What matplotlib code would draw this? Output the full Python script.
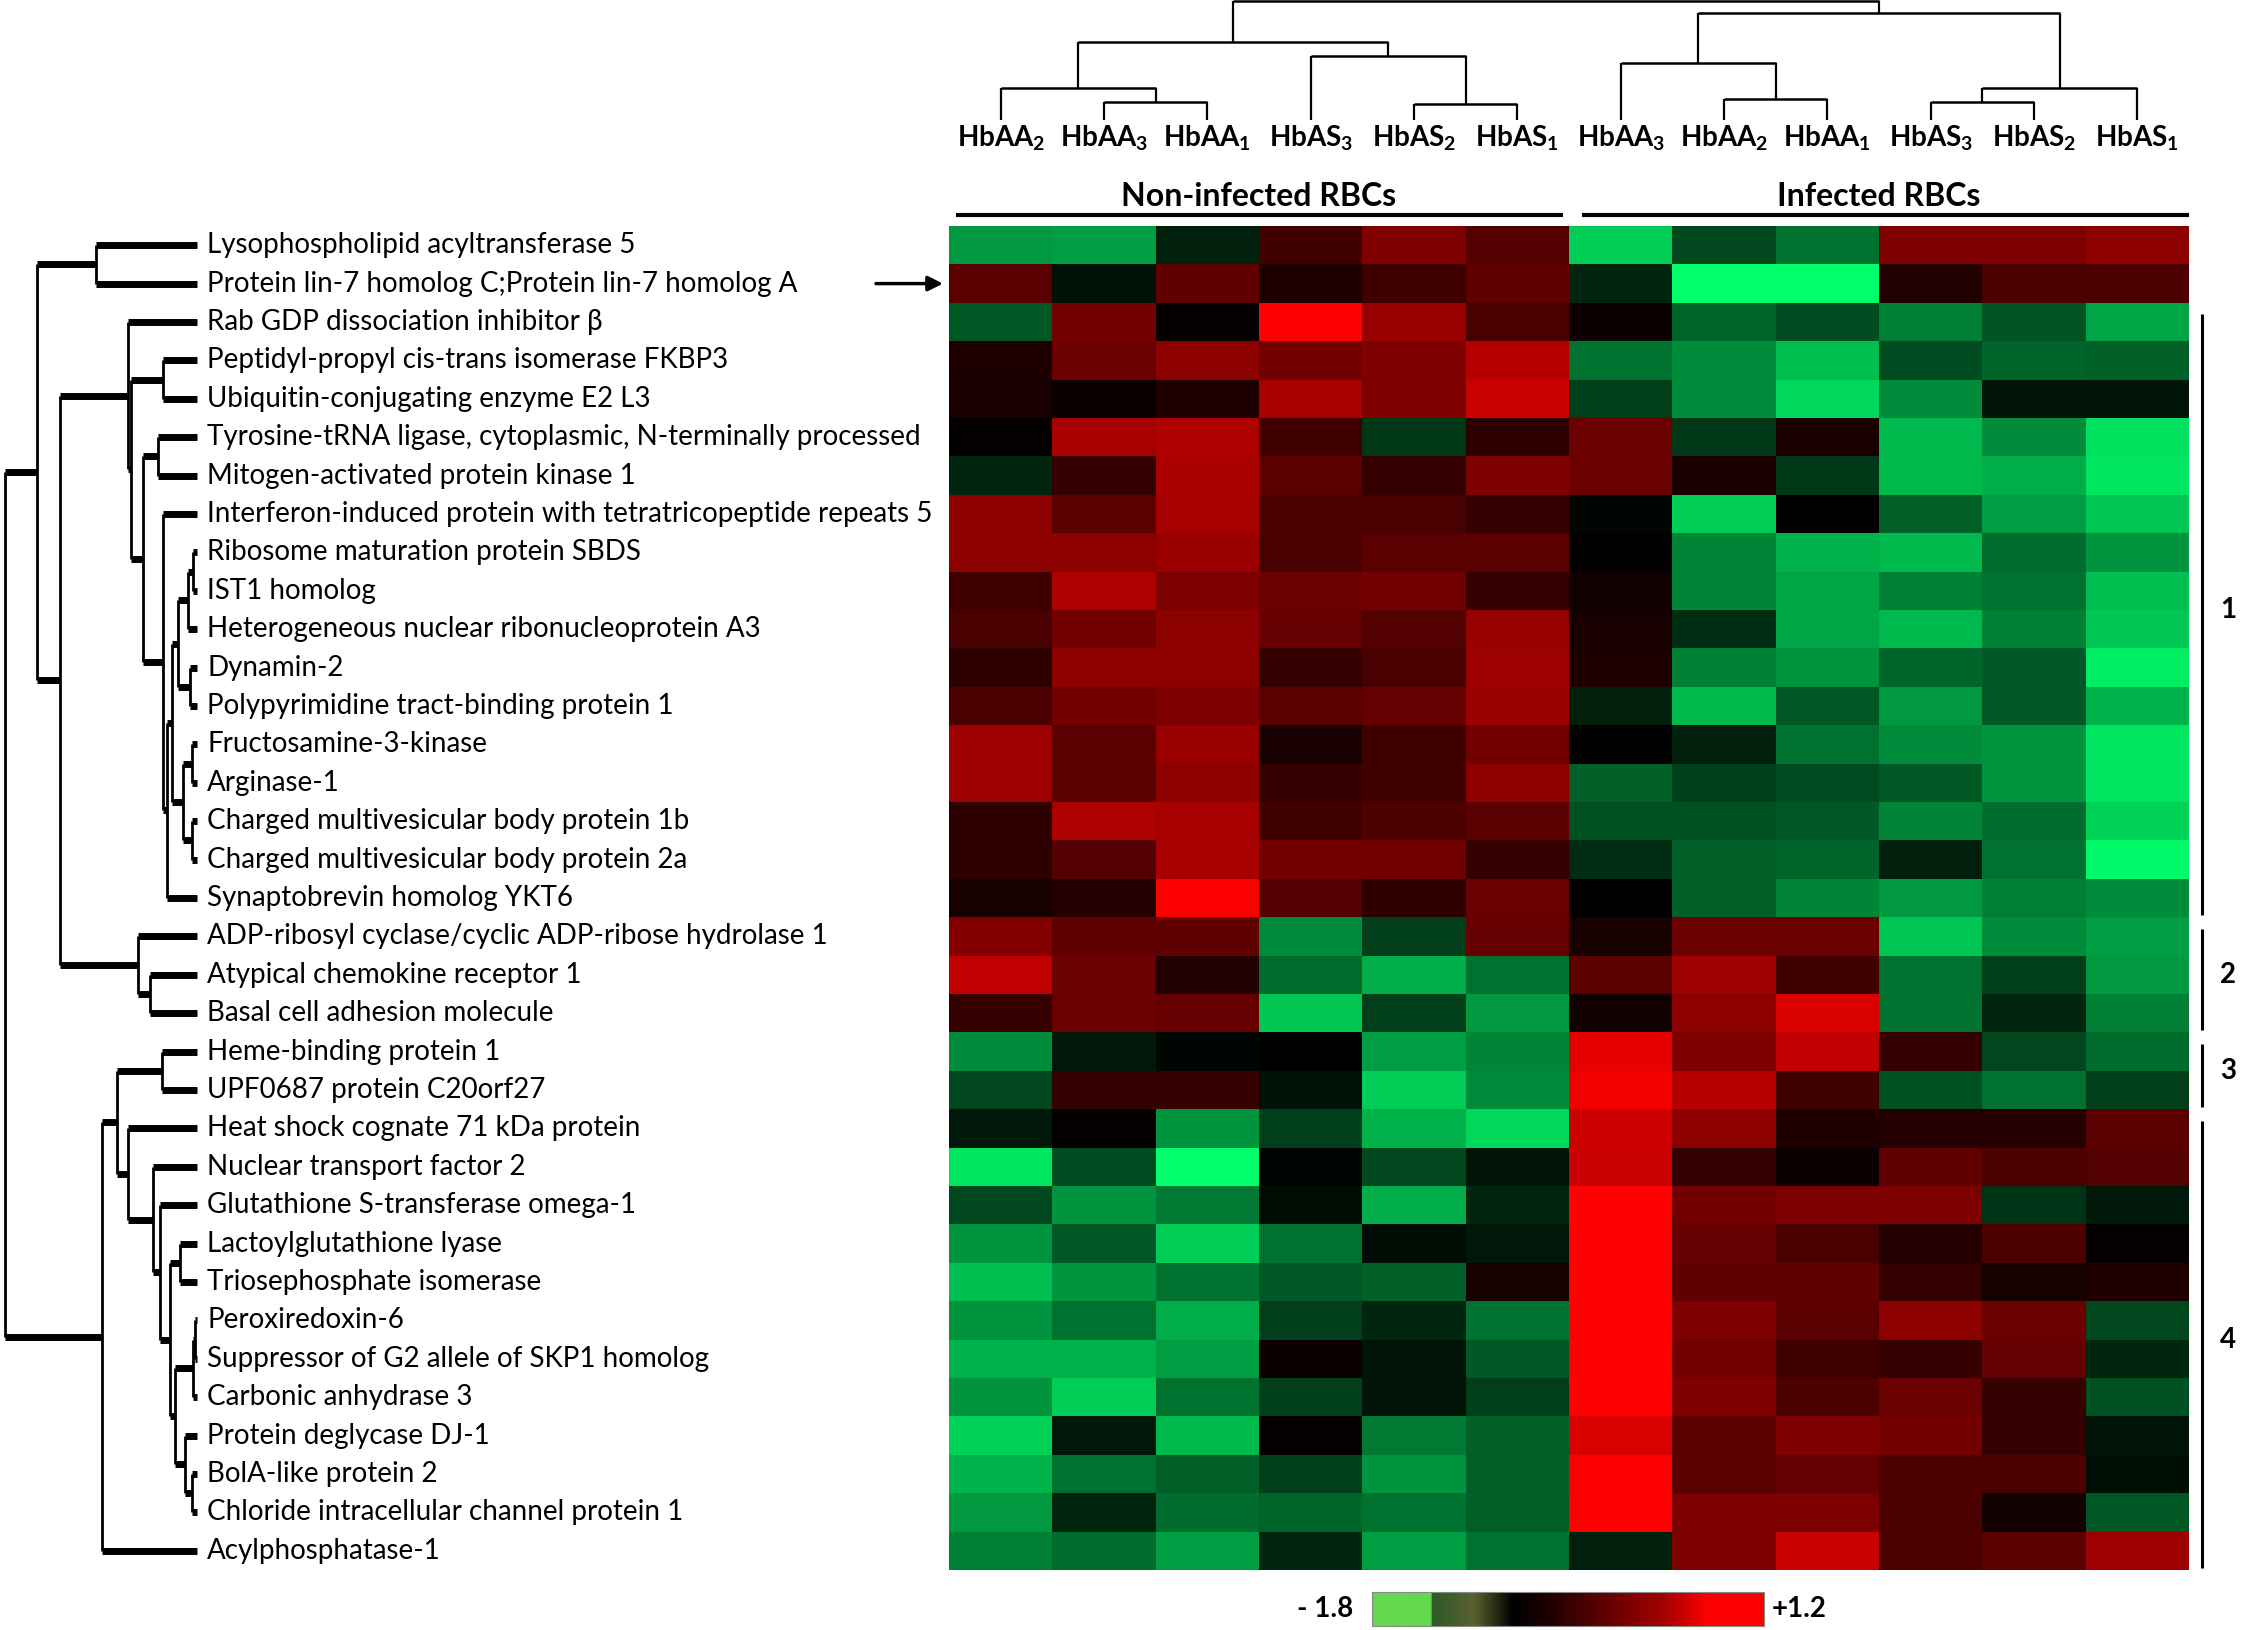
import numpy as np
import matplotlib
matplotlib.use('Agg')
import matplotlib.pyplot as plt
from matplotlib.colors import LinearSegmentedColormap, Normalize
from matplotlib.transforms import blended_transform_factory

plt.rcParams['font.family'] = ['Lato', 'DejaVu Sans']
plt.rcParams['mathtext.fontset'] = 'custom'
plt.rcParams['mathtext.rm'] = 'Lato'
plt.rcParams['mathtext.bf'] = 'Lato:bold'

W, H = 2241, 1630

proteins = [
    'Lysophospholipid acyltransferase 5',
    'Protein lin-7 homolog C;Protein lin-7 homolog A',
    'Rab GDP dissociation inhibitor β',
    'Peptidyl-propyl cis-trans isomerase FKBP3',
    'Ubiquitin-conjugating enzyme E2 L3',
    'Tyrosine-tRNA ligase, cytoplasmic, N-terminally processed',
    'Mitogen-activated protein kinase 1',
    'Interferon-induced protein with tetratricopeptide repeats 5',
    'Ribosome maturation protein SBDS',
    'IST1 homolog',
    'Heterogeneous nuclear ribonucleoprotein A3',
    'Dynamin-2',
    'Polypyrimidine tract-binding protein 1',
    'Fructosamine-3-kinase',
    'Arginase-1',
    'Charged multivesicular body protein 1b',
    'Charged multivesicular body protein 2a',
    'Synaptobrevin homolog YKT6',
    'ADP-ribosyl cyclase/cyclic ADP-ribose hydrolase 1',
    'Atypical chemokine receptor 1',
    'Basal cell adhesion molecule',
    'Heme-binding protein 1',
    'UPF0687 protein C20orf27',
    'Heat shock cognate 71 kDa protein',
    'Nuclear transport factor 2',
    'Glutathione S-transferase omega-1',
    'Lactoylglutathione lyase',
    'Triosephosphate isomerase',
    'Peroxiredoxin-6',
    'Suppressor of G2 allele of SKP1 homolog',
    'Carbonic anhydrase 3',
    'Protein deglycase DJ-1',
    'BolA-like protein 2',
    'Chloride intracellular channel protein 1',
    'Acylphosphatase-1',
]

samples = ['HbAA$_\\mathbf{2}$', 'HbAA$_\\mathbf{3}$', 'HbAA$_\\mathbf{1}$',
           'HbAS$_\\mathbf{3}$', 'HbAS$_\\mathbf{2}$', 'HbAS$_\\mathbf{1}$',
           'HbAA$_\\mathbf{3}$', 'HbAA$_\\mathbf{2}$', 'HbAA$_\\mathbf{1}$',
           'HbAS$_\\mathbf{3}$', 'HbAS$_\\mathbf{2}$', 'HbAS$_\\mathbf{1}$']
groups = ['Non-infected RBCs', 'Infected RBCs']

# log ratios read off the cells, non-infected columns
non_infected = [
    [-1.08, -1.12, -0.22, 0.30, 0.60, 0.40],
    [0.42, -0.13, 0.46, 0.14, 0.30, 0.46],
    [-0.63, 0.54, 0.02, 1.20, 0.70, 0.34],
    [0.14, 0.50, 0.66, 0.54, 0.60, 0.86],
    [0.12, 0.04, 0.14, 0.78, 0.60, 0.94],
    [0.02, 0.78, 0.82, 0.30, -0.40, 0.22],
    [-0.27, 0.24, 0.80, 0.42, 0.26, 0.60],
    [0.66, 0.42, 0.78, 0.34, 0.34, 0.26],
    [0.66, 0.66, 0.72, 0.34, 0.42, 0.42],
    [0.30, 0.82, 0.58, 0.50, 0.54, 0.26],
    [0.34, 0.54, 0.66, 0.48, 0.38, 0.70],
    [0.22, 0.66, 0.66, 0.24, 0.34, 0.74],
    [0.34, 0.54, 0.60, 0.42, 0.48, 0.72],
    [0.74, 0.42, 0.72, 0.12, 0.30, 0.54],
    [0.74, 0.42, 0.66, 0.26, 0.30, 0.66],
    [0.22, 0.82, 0.78, 0.30, 0.36, 0.42],
    [0.22, 0.38, 0.78, 0.54, 0.54, 0.26],
    [0.10, 0.17, 1.20, 0.38, 0.22, 0.50],
    [0.62, 0.46, 0.46, -0.99, -0.45, 0.48],
    [0.90, 0.50, 0.16, -0.76, -1.22, -0.81],
    [0.26, 0.50, 0.48, -1.40, -0.45, -1.08],
    [-0.99, -0.18, -0.05, 0.00, -1.12, -0.94],
    [-0.50, 0.24, 0.24, -0.13, -1.44, -0.99],
    [-0.18, 0.02, -1.04, -0.45, -1.26, -1.53],
    [-1.62, -0.54, -1.80, -0.04, -0.50, -0.14],
    [-0.50, -1.04, -0.86, -0.09, -1.22, -0.27],
    [-1.04, -0.63, -1.44, -0.81, -0.09, -0.18],
    [-1.35, -1.04, -0.81, -0.63, -0.68, 0.10],
    [-1.04, -0.81, -1.22, -0.45, -0.27, -0.81],
    [-1.26, -1.26, -1.12, 0.06, -0.14, -0.63],
    [-1.04, -1.44, -0.81, -0.45, -0.14, -0.45],
    [-1.48, -0.18, -1.30, 0.02, -0.86, -0.68],
    [-1.26, -0.81, -0.68, -0.45, -1.04, -0.68],
    [-1.08, -0.27, -0.76, -0.72, -0.81, -0.68],
    [-0.90, -0.76, -1.12, -0.27, -1.12, -0.81],
]

# infected columns
infected = [
    [-1.44, -0.50, -0.81, 0.60, 0.60, 0.66],
    [-0.27, -1.80, -1.80, 0.16, 0.36, 0.36],
    [0.06, -0.72, -0.54, -0.90, -0.60, -1.17],
    [-0.81, -0.99, -1.35, -0.54, -0.72, -0.68],
    [-0.45, -0.99, -1.53, -0.99, -0.14, -0.14],
    [0.50, -0.40, 0.12, -1.30, -0.99, -1.58],
    [0.50, 0.12, -0.40, -1.30, -1.22, -1.62],
    [-0.04, -1.44, 0.00, -0.68, -1.12, -1.40],
    [0.00, -0.94, -1.26, -1.30, -0.76, -1.04],
    [0.08, -0.94, -1.17, -0.90, -0.81, -1.35],
    [0.12, -0.32, -1.17, -1.30, -0.90, -1.40],
    [0.14, -0.90, -1.04, -0.72, -0.63, -1.66],
    [-0.22, -1.30, -0.63, -1.08, -0.63, -1.26],
    [0.00, -0.22, -0.81, -0.99, -1.04, -1.62],
    [-0.68, -0.45, -0.54, -0.63, -1.04, -1.62],
    [-0.58, -0.58, -0.63, -0.94, -0.76, -1.48],
    [-0.32, -0.68, -0.72, -0.22, -0.81, -1.76],
    [0.00, -0.68, -0.94, -1.08, -0.90, -0.99],
    [0.10, 0.50, 0.50, -1.40, -0.99, -1.12],
    [0.42, 0.74, 0.30, -0.81, -0.45, -1.08],
    [0.08, 0.66, 1.02, -0.81, -0.27, -0.90],
    [1.08, 0.60, 0.90, 0.24, -0.50, -0.76],
    [1.14, 0.86, 0.30, -0.58, -0.81, -0.45],
    [0.96, 0.66, 0.14, 0.18, 0.18, 0.42],
    [0.94, 0.24, 0.06, 0.46, 0.36, 0.38],
    [1.20, 0.54, 0.58, 0.58, -0.36, -0.18],
    [1.20, 0.48, 0.34, 0.18, 0.36, 0.02],
    [1.20, 0.46, 0.46, 0.24, 0.10, 0.14],
    [1.20, 0.60, 0.42, 0.66, 0.50, -0.50],
    [1.20, 0.54, 0.30, 0.26, 0.48, -0.27],
    [1.20, 0.60, 0.36, 0.50, 0.24, -0.58],
    [1.02, 0.42, 0.60, 0.54, 0.24, -0.14],
    [1.18, 0.42, 0.48, 0.36, 0.36, -0.11],
    [1.20, 0.60, 0.58, 0.36, 0.08, -0.63],
    [-0.22, 0.60, 0.94, 0.36, 0.42, 0.74],
]

vmin, vmax = -1.8, 1.2

# row clusters on the right: label, first row, last row
clusters = [('1', 2, 17), ('2', 18, 20), ('3', 21, 22), ('4', 23, 34)]
marked_row = 1

# protein dendrogram, (left, right, height)
c6 = ((((8, 9, 4), 10, 9), (11, 12, 7), 19), ((13, 14, 5), (15, 16, 5), 14), 25)
c1 = (2, ((3, 4, 34), ((5, 6, 39), (7, (c6, 17, 30), 34), 54), 66), 69)
c2 = (18, (19, 20, 47), 59)
upper = ((0, 1, 101), (c1, c2, 137), 160)
d6 = (((28, 29, 2), 30, 4), (31, (32, 33, 5), 12), 22)
lower = (((21, 22, 35), (23, (24, (25, ((26, 27, 17), d6, 27), 37), 44), 69), 80), 34, 95)
row_tree = (upper, lower, 192)

# sample dendrogram
left_tree = ((0, (1, 2, 18), 32), (3, (4, 5, 16), 63), 77)
right_tree = ((6, (7, 8, 21), 57), ((9, 10, 18), 11, 32), 106)
col_tree = (left_tree, right_tree, 118)

data = np.hstack([np.array(non_infected), np.array(infected)])
nrow, ncol = data.shape

cmap = LinearSegmentedColormap.from_list(
    'gbr', [(0.0, (0.0, 1.0, 0.42)), (0.6, (0.0, 0.0, 0.0)), (1.0, (1.0, 0.0, 0.0))])
cbar_cmap = LinearSegmentedColormap.from_list(
    'legend', [(0.0, '#62d94f'), (0.148, '#62d94f'), (0.152, '#2f5a2a'),
               (0.26, '#5a6030'), (0.36, '#000000'), (0.45, '#1e0000'),
               (0.62, '#6c0000'), (0.74, '#a00000'), (0.86, '#ff0000'),
               (1.0, '#ff0000')])


def box(x0, y0, x1, y1):
    return [x0 / W, 1 - y1 / H, (x1 - x0) / W, (y1 - y0) / H]


def draw_tree(ax, node, rows, lw_stub, lw_link):
    if isinstance(node, int):
        return node, 0
    left, right, h = node
    p1, h1 = draw_tree(ax, left, rows, lw_stub, lw_link)
    p2, h2 = draw_tree(ax, right, rows, lw_stub, lw_link)
    kw = dict(color='black', solid_capstyle='butt', clip_on=False)
    if rows:
        ax.plot([h, h], [p1, p2], lw=lw_link, **kw)
        ax.plot([h1, h], [p1, p1], lw=lw_stub, **kw)
        ax.plot([h2, h], [p2, p2], lw=lw_stub, **kw)
    else:
        ax.plot([p1, p2], [h, h], lw=lw_link, **kw)
        ax.plot([p1, p1], [h1, h], lw=lw_stub, **kw)
        ax.plot([p2, p2], [h2, h], lw=lw_stub, **kw)
    return (p1 + p2) / 2, h


fig = plt.figure(figsize=(W / 100, H / 100), dpi=100)

ax = fig.add_axes(box(949, 226, 2189, 1570))
ax.imshow(data, cmap=cmap, norm=Normalize(vmin, vmax), aspect='auto', interpolation='nearest')
ax.set_xlim(-0.5, ncol - 0.5)
ax.set_ylim(nrow - 0.5, -0.5)
ax.axis('off')

fig_y = blended_transform_factory(fig.transFigure, ax.transData)
x_fig = blended_transform_factory(ax.transData, fig.transFigure)

# protein names
for i, name in enumerate(proteins):
    ax.text(207 / W, i, name, transform=fig_y, ha='left', va='center', fontsize=20)

# sample names and group headers
for j, s in enumerate(samples):
    ax.text(j, 1 - 138 / H, s, transform=x_fig, ha='center', va='center',
            fontsize=20, fontweight='bold')
half = ncol / 2
ax.text(half / 2 - 0.5, 1 - 196 / H, groups[0], transform=x_fig, ha='center',
        va='center', fontsize=23, fontweight='bold')
ax.text(half + half / 2 - 0.5, 1 - 196 / H, groups[1], transform=x_fig, ha='center',
        va='center', fontsize=23, fontweight='bold')
ax.plot([-0.43, half - 0.56], [1 - 215 / H] * 2, transform=x_fig, color='black',
        lw=3, clip_on=False, solid_capstyle='butt')
ax.plot([half - 0.37, ncol - 0.5], [1 - 215 / H] * 2, transform=x_fig, color='black',
        lw=3, clip_on=False, solid_capstyle='butt')

# arrow to the marked protein
ax.annotate('', xy=(943 / W, marked_row), xycoords=fig_y,
            xytext=(876 / W, marked_row), textcoords=fig_y,
            arrowprops=dict(arrowstyle='-|>', color='black', lw=2.5, mutation_scale=22,
                            shrinkA=0, shrinkB=0))

# cluster brackets
for lab, r0, r1 in clusters:
    ax.plot([2202 / W] * 2, [r0 - 0.2, r1 + 0.45], transform=fig_y, color='black',
            lw=2.2, clip_on=False, solid_capstyle='butt')
    ax.text(2228 / W, (r0 + r1) / 2, lab, transform=fig_y, ha='center', va='center',
            fontsize=20, fontweight='bold')

# row dendrogram
axr = fig.add_axes(box(0, 226, 197, 1570))
draw_tree(axr, row_tree, True, 5.0, 2.0)
axr.set_xlim(197, 0)
axr.set_ylim(nrow - 0.5, -0.5)
axr.axis('off')

# column dendrogram
axc = fig.add_axes(box(949, 1, 2189, 120))
draw_tree(axc, col_tree, False, 1.6, 1.8)
axc.set_xlim(-0.5, ncol - 0.5)
axc.set_ylim(0, 118)
axc.axis('off')

# colour legend
axb = fig.add_axes(box(1372, 1592, 1764, 1626))
axb.imshow(np.linspace(vmin, vmax, 400)[None, :], cmap=cbar_cmap, aspect='auto',
           extent=[vmin, vmax, 0, 1])
axb.set_xticks([])
axb.set_yticks([])
for sp in axb.spines.values():
    sp.set_color('#888888')
    sp.set_linewidth(0.8)
fig.text(1353 / W, 1 - 1609 / H, f'- {abs(vmin)}', ha='right', va='center',
         fontsize=20, fontweight='bold')
fig.text(1772 / W, 1 - 1609 / H, f'+{vmax}', ha='left', va='center',
         fontsize=20, fontweight='bold')

fig.savefig('out.png', dpi=100)
